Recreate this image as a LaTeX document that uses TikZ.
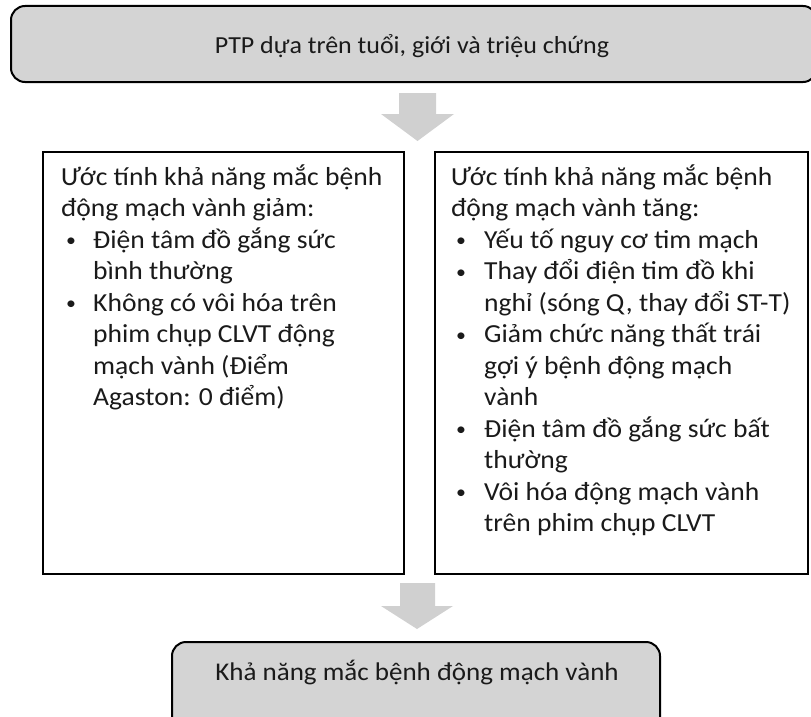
\documentclass[tikz,border=0pt]{standalone}
\usepackage{fontspec}
\usepackage{graphicx}
\setmainfont{Carlito}[FakeStretch=1.06]
\definecolor{boxgray}{HTML}{D4D4D4}
\definecolor{arrowgray}{HTML}{D0D0D0}
\definecolor{ink}{HTML}{1A1A1A}
\newcommand{\smallbul}{\raisebox{1.5pt}{\scalebox{0.72}{•}}}
\newcommand{\bulA}{\makebox[32pt][l]{\hspace{5pt}\smallbul}}
\newcommand{\contA}{\hspace*{32pt}}
\newcommand{\bulB}{\makebox[33pt][l]{\hspace{5pt}\smallbul}}
\newcommand{\contB}{\hspace*{33pt}}
\newcommand{\firststrut}{\rule{0pt}{26pt}}
\begin{document}
\begin{tikzpicture}[x=1pt,y=-1pt,
  graybox/.style={draw=black, line width=2pt, fill=boxgray, rounded corners=14pt, inner sep=0pt},
  whitebox/.style={draw=black, line width=2pt, fill=white, inner sep=0pt},
  bigtext/.style={font=\fontsize{26}{31.5}\selectfont, text=ink, inner sep=0pt},
  titletext/.style={text=ink, inner sep=0pt, anchor=base},
  listtext/.style={bigtext, align=left, anchor=north west},
  blockarrow/.style={fill=arrowgray, draw=none}]
\useasboundingbox (0,0) rectangle (811,717);
\clip (0,0) rectangle (811,717);
% top box
\node[graybox, minimum width=806pt, minimum height=76pt] (top) at (414,44) {};
\node[titletext, font=\fontsize{24.5}{29}\selectfont] (toptext) at (412,54) {PTP dựa trên tuổi, giới và triệu chứng};
% arrow 1
\fill[blockarrow] (399,93) -- (436,93) -- (436,114) -- (454,114) -- (417.5,141) -- (381,114) -- (399,114) -- cycle;
% left and right boxes
\node[whitebox, anchor=north west, minimum width=361pt, minimum height=422pt] (left) at (42,151) {};
\node[whitebox, anchor=north west, minimum width=373pt, minimum height=422pt] (right) at (434,151) {};
\node[listtext] (lefttext) at (61,159) {\firststrut Ước tính khả năng mắc bệnh\\
động mạch vành giảm:\\
\bulA Điện tâm đồ gắng sức\\
\contA bình thường\\
\bulA Không có vôi hóa trên\\
\contA phim chụp CLVT động\\
\contA mạch vành (Điểm\\
\contA Agaston: 0 điểm)};
\node[listtext] (righttext) at (451,159) {\firststrut Ước tính khả năng mắc bệnh\\
động mạch vành tăng:\\
\bulB Yếu tố nguy cơ tim mạch\\
\bulB Thay đổi điện tim đồ khi\\
\contB nghỉ (sóng Q, thay đổi ST-T)\\
\bulB Giảm chức năng thất trái\\
\contB gợi ý bệnh động mạch\\
\contB vành\\
\bulB Điện tâm đồ gắng sức bất\\
\contB thường\\
\bulB Vôi hóa động mạch vành\\
\contB trên phim chụp CLVT};
% arrow 2
\fill[blockarrow] (400,583) -- (435,583) -- (435,606) -- (453,606) -- (417,629) -- (381,606) -- (400,606) -- cycle;
% bottom box
\node[graybox, anchor=north, minimum width=488pt, minimum height=100pt] (bottom) at (416,641) {};
\node[titletext, font=\fontsize{25.5}{30}\selectfont] (bottomtext) at (417,680) {Khả năng mắc bệnh động mạch vành};
\end{tikzpicture}
\end{document}
